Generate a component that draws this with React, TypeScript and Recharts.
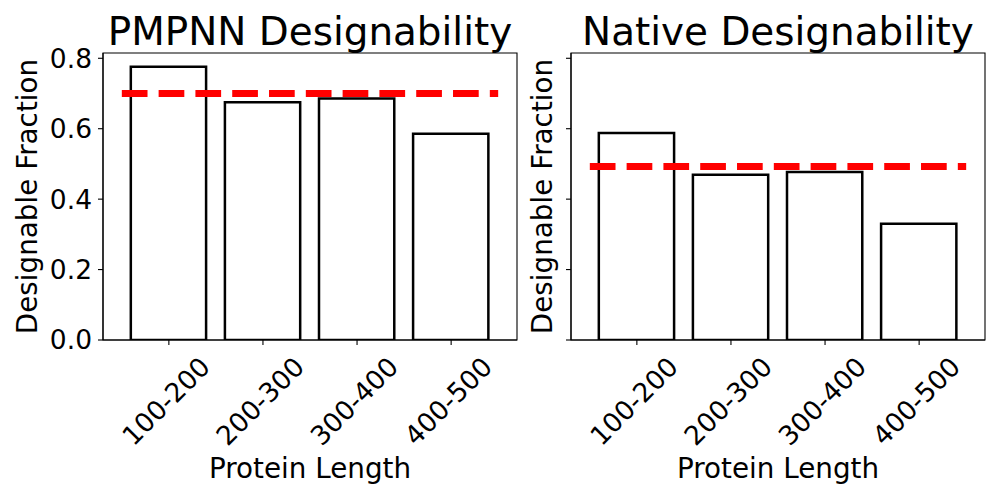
import React from "react";
import { ComposedChart, Bar, XAxis, YAxis, ReferenceLine, ReferenceArea } from "recharts";

const categories = ["100-200", "200-300", "300-400", "400-500"];
const xPositions = [0, 1, 2, 3];
const pmpnnValues = [0.776, 0.675, 0.686, 0.586];
const nativeValues = [0.588, 0.469, 0.477, 0.33];
const pmpnnThreshold = 0.7;
const nativeThreshold = 0.4925;
const yTicks = [0, 0.2, 0.4, 0.6, 0.8];
const titles = ["PMPNN Designability", "Native Designability"];

const FONT = "DejaVu Sans";
const TICK_FONT = 26.5;
const W = 1000;
const H = 500;
const TOP = 53;
const BOTTOM = 340;
const X_DOMAIN: [number, number] = [-0.7, 3.7];
const Y_DOMAIN: [number, number] = [0, 0.815];

const XTick = (props: any) => {
  const { x, y, payload } = props;
  const cx = x - 3;
  const cy = y + 56;
  return (
    <text
      x={cx}
      y={cy}
      dy="0.36em"
      textAnchor="middle"
      transform={`rotate(-45, ${cx}, ${cy})`}
      fontFamily={FONT}
      fontSize={TICK_FONT}
      fill="#000"
    >
      {categories[payload.value]}
    </text>
  );
};

const EmptyTick = () => <g />;

type PanelProps = {
  values: number[];
  threshold: number;
  plotLeft: number;
  plotRight: number;
  showYLabels: boolean;
};

const Panel = ({ values, threshold, plotLeft, plotRight, showYLabels }: PanelProps) => {
  const data = categories.map((c, i) => ({ x: xPositions[i], name: c, value: values[i] }));
  const unit = (plotRight - plotLeft) / (X_DOMAIN[1] - X_DOMAIN[0]);
  const axisStyle = { stroke: "#000", strokeWidth: 1.1 };
  return (
    <div style={{ position: "absolute", left: 0, top: 0, width: W, height: H }}>
      <ComposedChart
        width={W}
        height={H}
        data={data}
        margin={{ top: TOP, right: W - plotRight, bottom: 0, left: 0 }}
      >
        <XAxis
          xAxisId="main"
          type="number"
          dataKey="x"
          domain={X_DOMAIN}
          ticks={xPositions}
          height={H - BOTTOM}
          tickSize={5}
          tickMargin={0}
          tick={<XTick />}
          axisLine={axisStyle}
          tickLine={axisStyle}
          allowDataOverflow
        />
        <YAxis
          yAxisId="main"
          type="number"
          domain={Y_DOMAIN}
          ticks={yTicks}
          width={plotLeft}
          tickSize={5}
          tickMargin={6}
          tick={showYLabels ? { fontSize: TICK_FONT, fontFamily: FONT, fill: "#000" } : <EmptyTick />}
          tickFormatter={(v: number) => v.toFixed(1)}
          axisLine={axisStyle}
          tickLine={axisStyle}
          allowDataOverflow
        />
        <Bar
          xAxisId="main"
          yAxisId="main"
          dataKey="value"
          barSize={0.8 * unit}
          fill="#fff"
          stroke="#000"
          strokeWidth={2.5}
          isAnimationActive={false}
        />
        <ReferenceLine
          xAxisId="main"
          yAxisId="main"
          segment={[
            { x: -0.5, y: threshold },
            { x: 3.5, y: threshold },
          ]}
          stroke="#ff0000"
          strokeWidth={7}
          strokeDasharray="25.7 11.1"
        />
        <ReferenceArea
          xAxisId="main"
          yAxisId="main"
          x1={X_DOMAIN[0]}
          x2={X_DOMAIN[1]}
          y1={Y_DOMAIN[0]}
          y2={Y_DOMAIN[1]}
          fill="none"
          fillOpacity={0}
          stroke="#000"
          strokeWidth={1.1}
          strokeOpacity={1}
          ifOverflow="visible"
        />
      </ComposedChart>
    </div>
  );
};

const Labels = () => {
  const panels = [
    { cx: 310, yLabelX: 36.5 },
    { cx: 778, yLabelX: 551.5 },
  ];
  const yc = (TOP + BOTTOM) / 2;
  return (
    <svg
      width={W}
      height={H}
      style={{ position: "absolute", left: 0, top: 0, pointerEvents: "none" }}
    >
      {panels.map((p, i) => (
        <g key={i} fontFamily={FONT} fill="#000">
          <text x={p.cx} y={45} textAnchor="middle" fontSize={38.9}>
            {titles[i]}
          </text>
          <text x={p.cx} y={478} textAnchor="middle" fontSize={27.8}>
            Protein Length
          </text>
          <text
            x={p.yLabelX}
            y={yc}
            textAnchor="middle"
            fontSize={27.8}
            transform={`rotate(-90, ${p.yLabelX}, ${yc})`}
          >
            Designable Fraction
          </text>
        </g>
      ))}
    </svg>
  );
};

export default function App() {
  return (
    <div style={{ position: "relative", width: W, height: H, background: "#fff", overflow: "hidden" }}>
      <style>{"body{margin:0;}"}</style>
      <Panel values={pmpnnValues} threshold={pmpnnThreshold} plotLeft={103} plotRight={517} showYLabels />
      <Panel values={nativeValues} threshold={nativeThreshold} plotLeft={571} plotRight={985} showYLabels={false} />
      <Labels />
    </div>
  );
}
